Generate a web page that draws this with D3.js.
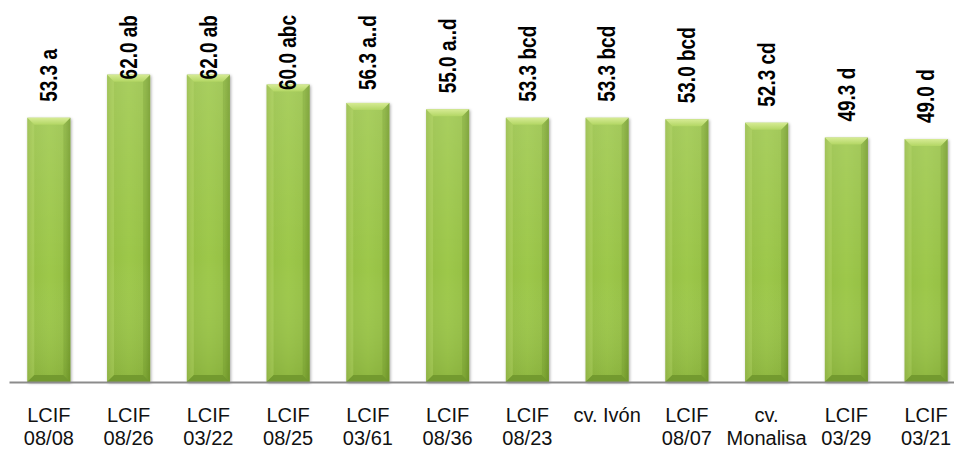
<!DOCTYPE html>
<html>
<head>
<meta charset="utf-8">
<script src="https://cdn.jsdelivr.net/npm/d3@7/dist/d3.min.js"></script>
<style>
  html, body { margin: 0; padding: 0; background: #fff; }
  svg { display: block; }
</style>
</head>
<body>
<svg id="chart" width="954" height="449"></svg>
<script>
// Genotype labels (line breaks split the two-line tick labels)
const categories = [
  "LCIF\n08/08", "LCIF\n08/26", "LCIF\n03/22", "LCIF\n08/25",
  "LCIF\n03/61", "LCIF\n08/36", "LCIF\n08/23", "cv. Ivón",
  "LCIF\n08/07", "cv.\nMonalisa", "LCIF\n03/29", "LCIF\n03/21"
];
// Mean values shown above each bar
const values = [53.3, 62.0, 62.0, 60.0, 56.3, 55.0, 53.3, 53.3, 53.0, 52.3, 49.3, 49.0];
// Significance letters following each value
const letters = ["a", "ab", "ab", "abc", "a..d", "a..d", "bcd", "bcd", "bcd", "cd", "d", "d"];
const yDomain = [0, 70];

const svg = d3.select("#chart");
const baseY = 382;
const labelTop = 15;   // labels never rise above this line
const labelGap = 16;   // space between bar top and its label

const x = d3.scaleBand()
  .domain(d3.range(categories.length))
  .range([9, 966])
  .paddingInner(0.46)
  .paddingOuter(0.23);

const y = d3.scaleLinear().domain(yDomain).range([baseY, 35]);

const defs = svg.append("defs");

const body = defs.append("linearGradient").attr("id", "body")
  .attr("x1", 0).attr("x2", 1).attr("y1", 0).attr("y2", 0);
body.append("stop").attr("offset", 0).attr("stop-color", "#86ae37");
body.append("stop").attr("offset", 0.12).attr("stop-color", "#96c044");
body.append("stop").attr("offset", 0.5).attr("stop-color", "#9dc84a");
body.append("stop").attr("offset", 0.88).attr("stop-color", "#96c044");
body.append("stop").attr("offset", 1).attr("stop-color", "#80a833");

const shade = defs.append("linearGradient").attr("id", "shade")
  .attr("x1", 0).attr("x2", 0).attr("y1", 0).attr("y2", 1);
shade.append("stop").attr("offset", 0).attr("stop-color", "#ffffff").attr("stop-opacity", 0.12);
shade.append("stop").attr("offset", 0.6).attr("stop-color", "#ffffff").attr("stop-opacity", 0);
shade.append("stop").attr("offset", 1).attr("stop-color", "#2f4a00").attr("stop-opacity", 0.14);

const topG = defs.append("linearGradient").attr("id", "topBevel")
  .attr("x1", 0).attr("x2", 0).attr("y1", 0).attr("y2", 1);
topG.append("stop").attr("offset", 0).attr("stop-color", "#d6eb94");
topG.append("stop").attr("offset", 1).attr("stop-color", "#b2d663");

const shadow = defs.append("filter").attr("id", "shadow")
  .attr("x", "-20%").attr("y", "-5%").attr("width", "140%").attr("height", "110%");
shadow.append("feDropShadow").attr("dx", 1).attr("dy", 1).attr("stdDeviation", 1.6)
  .attr("flood-color", "#000").attr("flood-opacity", 0.35);

const bw = x.bandwidth();
const bev = 7;

const bars = svg.append("g").selectAll("g.bar")
  .data(values)
  .join("g")
  .attr("class", "bar");

bars.append("rect")
  .attr("x", (d, i) => x(i))
  .attr("y", d => y(d))
  .attr("width", bw)
  .attr("height", d => baseY - y(d))
  .attr("fill", "url(#body)")
  .attr("filter", "url(#shadow)");

bars.append("rect")
  .attr("x", (d, i) => x(i))
  .attr("y", d => y(d))
  .attr("width", bw)
  .attr("height", d => baseY - y(d))
  .attr("fill", "url(#shade)");

// top bevel
bars.append("path")
  .attr("d", (d, i) => {
    const x0 = x(i), t = y(d);
    return `M${x0},${t}L${x0 + bw},${t}L${x0 + bw - bev},${t + bev}L${x0 + bev},${t + bev}Z`;
  })
  .attr("fill", "url(#topBevel)");

// side bevels
bars.append("path")
  .attr("d", (d, i) => {
    const x0 = x(i), t = y(d);
    return `M${x0},${t}L${x0 + bev},${t + bev}L${x0 + bev},${baseY - bev}L${x0},${baseY}Z`;
  })
  .attr("fill", "#c4e27a").attr("opacity", 0.28);
bars.append("path")
  .attr("d", (d, i) => {
    const x0 = x(i) + bw, t = y(d);
    return `M${x0},${t}L${x0 - bev},${t + bev}L${x0 - bev},${baseY - bev}L${x0},${baseY}Z`;
  })
  .attr("fill", "#4f7515").attr("opacity", 0.18);

// bottom bevel
bars.append("path")
  .attr("d", (d, i) => {
    const x0 = x(i);
    return `M${x0},${baseY}L${x0 + bw},${baseY}L${x0 + bw - bev},${baseY - bev}L${x0 + bev},${baseY - bev}Z`;
  })
  .attr("fill", "#6f952d").attr("opacity", 0.85);

// value + letter labels, rotated; kept below the top margin
const labels = svg.append("g").selectAll("text")
  .data(values)
  .join("text")
  .attr("dy", "0.36em")
  .attr("text-anchor", "start")
  .attr("font-family", "Liberation Sans, Arial, sans-serif")
  .attr("font-weight", "bold")
  .attr("font-size", 19)
  .attr("fill", "#000")
  .text((d, i) => `${d.toFixed(1)} ${letters[i]}`);

labels.each(function (d, i) {
  const len = this.getComputedTextLength();
  const bottom = Math.max(y(d) - labelGap, labelTop + len);
  d3.select(this).attr("transform",
    `translate(${x(i) + bw / 2},${bottom}) rotate(-90) scale(1,1.22)`);
});

// category axis
const axis = svg.append("g")
  .attr("transform", `translate(0,${baseY})`)
  .call(d3.axisBottom(x).tickSize(0).tickSizeOuter(0).tickFormat(""));
axis.select(".domain").attr("stroke", "#8c8c8c").attr("stroke-width", 2);
axis.selectAll(".tick text").remove();
axis.selectAll(".tick").each(function (i) {
  const lines = categories[i].split("\n");
  const t = d3.select(this).append("text")
    .attr("text-anchor", "middle")
    .attr("font-family", "Liberation Sans, Arial, sans-serif")
    .attr("font-size", 20)
    .attr("fill", "#111");
  lines.forEach((ln, k) => {
    t.append("tspan").attr("x", 0).attr("y", 40 + k * 23).text(ln);
  });
});
</script>
</body>
</html>
